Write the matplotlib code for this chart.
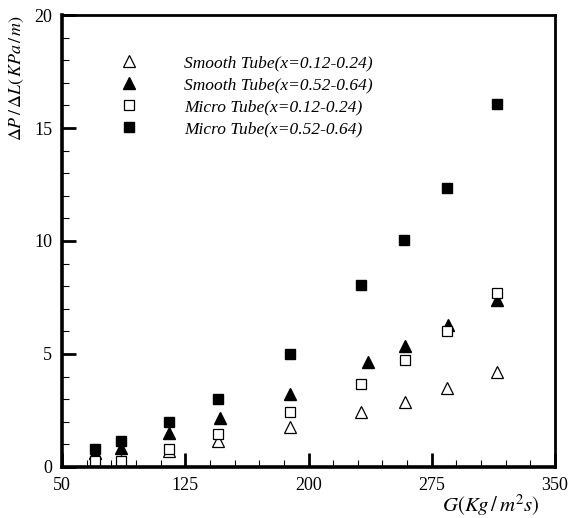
import matplotlib
matplotlib.use("Agg")
import matplotlib.pyplot as plt
from matplotlib.ticker import MultipleLocator

# mass flux G (kg/m2s) and pressure gradient (kPa/m) per series
g_smooth_low = [70, 86, 115, 145, 189, 232, 259, 284, 315]
dp_smooth_low = [0.2, 0.25, 0.7, 1.15, 1.78, 2.45, 2.89, 3.48, 4.19]

g_smooth_high = [70, 86, 115, 146, 189, 236, 259, 285, 315]
dp_smooth_high = [0.6, 0.85, 1.5, 2.15, 3.22, 4.66, 5.35, 6.28, 7.39]

g_micro_low = [70, 86, 115, 145, 189, 232, 259, 284, 315]
dp_micro_low = [0.25, 0.28, 0.8, 1.45, 2.45, 3.67, 4.73, 6.02, 7.68]

g_micro_high = [70, 86, 115, 145, 189, 232, 258, 284, 315]
dp_micro_high = [0.8, 1.15, 1.98, 3.0, 5.0, 8.05, 10.04, 12.36, 16.06]

labels = [
    "Smooth Tube(x=0.12-0.24)",
    "Smooth Tube(x=0.52-0.64)",
    "Micro Tube(x=0.12-0.24)",
    "Micro Tube(x=0.52-0.64)",
]

plt.rcParams["font.family"] = ["Liberation Serif", "DejaVu Serif"]
plt.rcParams["mathtext.fontset"] = "stix"

fig = plt.figure(figsize=(5.7, 5.18), dpi=100)
ax = fig.add_axes([0.1088, 0.0985, 0.8649, 0.8725])

ax.plot(g_smooth_low, dp_smooth_low, ls="none", marker="^", ms=9,
        mfc="white", mec="black", mew=0.9, label=labels[0])
ax.plot(g_smooth_high, dp_smooth_high, ls="none", marker="^", ms=9,
        mfc="black", mec="black", label=labels[1])
ax.plot(g_micro_low, dp_micro_low, ls="none", marker="s", ms=7.5,
        mfc="white", mec="black", mew=0.9, label=labels[2])
ax.plot(g_micro_high, dp_micro_high, ls="none", marker="s", ms=7.5,
        mfc="black", mec="black", label=labels[3])

ax.set_xlim(50, 350)
ax.set_ylim(0, 20)
ax.xaxis.set_major_locator(MultipleLocator(75, offset=50))
ax.xaxis.set_minor_locator(MultipleLocator(15, offset=50))
ax.yaxis.set_major_locator(MultipleLocator(5))
ax.yaxis.set_minor_locator(MultipleLocator(1))
ax.tick_params(which="major", direction="in", length=10, width=2,
               labelsize=13, pad=7, top=False, right=False)
ax.tick_params(which="minor", direction="in", length=5, width=0.8,
               top=False, right=False)

for side in ["left", "bottom"]:
    ax.spines[side].set_linewidth(2.6)
for side in ["top", "right"]:
    ax.spines[side].set_linewidth(2.0)

ax.set_ylabel(r"$\Delta P\,/\,\Delta L(\,KPa\,/\,m)$", fontsize=13,
              loc="top", labelpad=6)
ax.text(0.87, -0.084, r"$G(Kg\,/\,m^2s)$", transform=ax.transAxes,
        ha="center", va="center", fontsize=15)

leg = ax.legend(loc="upper left", bbox_to_anchor=(0.1, 0.93), frameon=False,
                prop={"style": "italic", "size": 12.5}, handlelength=1.0,
                handletextpad=2.7, labelspacing=0.33, borderpad=0)

fig.savefig("out.png", dpi=100)
